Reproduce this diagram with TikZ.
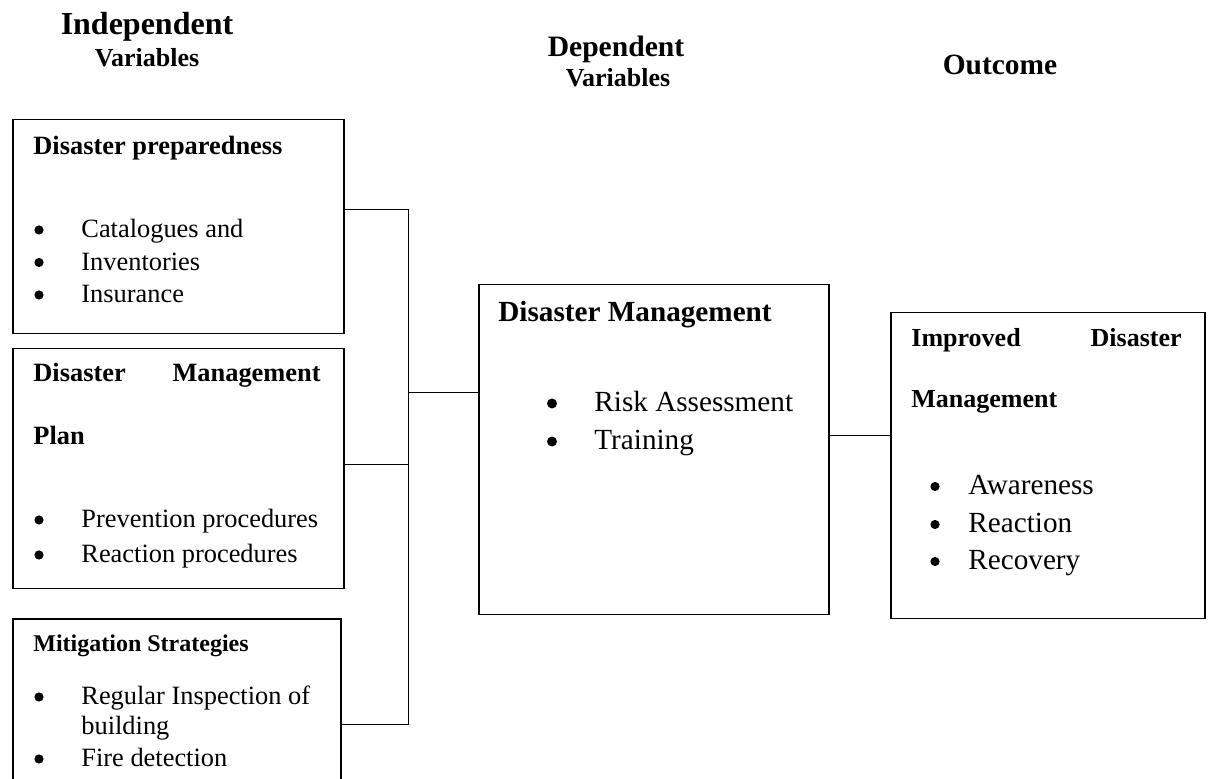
\documentclass[tikz,border=0pt]{standalone}
\usepackage{fontspec}
\setmainfont{Liberation Serif}

\tikzset{
  box/.style={draw, line width=0.75pt, anchor=north west, inner sep=0pt},
  txt/.style={anchor=base west, inner sep=0pt},
  dot/.style={circle, fill, inner sep=0pt, minimum size=4.6pt},
  hd/.style={anchor=base, inner sep=0pt, font=\bfseries\fontsize{13}{15}\selectfont},
  link/.style={line width=0.5pt},
  lfont/.style={font=\fontsize{13.2}{15}\selectfont},
  lbold/.style={font=\bfseries\fontsize{13.2}{15}\selectfont},
  rfont/.style={font=\fontsize{14.6}{17}\selectfont},
}

\begin{document}
\begin{tikzpicture}[x=0.5pt,y=-0.5pt]
\path[use as bounding box, clip] (0,0) rectangle (1210,779);

      % headings
      \node[hd, font=\bfseries\fontsize{16}{19}\selectfont] (indep) at (147,35) {Independent};
      \node[hd] (indepvar) at (147,67) {Variables};
      \node[hd, font=\bfseries\fontsize{14.8}{17}\selectfont] (dep) at (616,57) {Dependent};
      \node[hd] (depvar) at (618,87) {Variables};
      \node[hd, font=\bfseries\fontsize{14.7}{17}\selectfont] (outc) at (1000,75) {Outcome};

      % boxes
      \node[box, minimum width=165.5pt, minimum height=107pt] (prep) at (12,119) {};
      \node[box, minimum width=165.5pt, minimum height=120pt] (plan) at (12,348) {};
      \node[box, line width=1pt, minimum width=164pt, minimum height=91pt] (mitig) at (12,618) {};
      \node[box, minimum width=175pt, minimum height=165pt] (dm) at (478,284) {};
      \node[box, minimum width=157pt, minimum height=153pt] (idm) at (890,312) {};

      % disaster preparedness
      \node[txt, lbold] (preptitle) at (33,155) {Disaster preparedness};
      \foreach \lbl [count=\i] in {Catalogues and, Inventories, Insurance} {
        \node[dot] (prepb\i) at (39,197.5+32.5*\i) {};
        \node[txt, lfont] (prepi\i) at (81,205.5+32.5*\i) {\lbl};
      }

      % plan
      \node[txt, lbold] (plantitle) at (33,382) {Disaster};
      \node[txt, lbold, anchor=base east] (plantitleb) at (321,382) {Management};
      \node[txt, lbold] (plantitlec) at (33,445) {Plan};
      \foreach \lbl/\y [count=\i] in {Prevention procedures/528, Reaction procedures/563} {
        \node[dot] (planb\i) at (39,\y-8) {};
        \node[txt, lfont] (plani\i) at (81,\y) {\lbl};
      }

      % mitigation
      \node[txt, font=\bfseries\fontsize{12}{14}\selectfont] (mitigtitle) at (33,652) {Mitigation Strategies};
      \node[dot] (mitigb1) at (39,697) {};
      \node[txt, lfont] (mitigi1) at (81,705) {Regular Inspection of};
      \node[txt, lfont] (mitigi1b) at (81,735) {building};
      \node[dot] (mitigb2) at (39,759) {};
      \node[txt, lfont] (mitigi2) at (81,767) {Fire detection};

      % disaster management
      \node[txt, font=\bfseries\fontsize{14.6}{17}\selectfont] (dmtitle) at (498,322) {Disaster Management};
      \foreach \lbl/\y [count=\i] in {Risk Assessment/412, Training/450} {
        \node[dot, minimum size=5pt] (dmb\i) at (552,\y-8.5) {};
        \node[txt, rfont] (dmi\i) at (594,\y) {\lbl};
      }

      % improved disaster management
      \node[txt, font=\bfseries\fontsize{13}{15}\selectfont] (idmtitle) at (911,347) {Improved};
      \node[txt, font=\bfseries\fontsize{13}{15}\selectfont, anchor=base east] (idmtitleb) at (1182,347) {Disaster};
      \node[txt, font=\bfseries\fontsize{13}{15}\selectfont] (idmtitlec) at (911,408) {Management};
      \foreach \lbl/\y [count=\i] in {Awareness/495, Reaction/533, Recovery/570} {
        \node[dot] (idmb\i) at (935,\y-8.5) {};
        \node[txt, rfont] (idmi\i) at (968,\y) {\lbl};
      }

      % connectors
      \coordinate (bustop) at (408,210);
      \coordinate (busdm) at (408,393);
      \coordinate (busmid) at (408,465);
      \coordinate (busbot) at (408,725);
      \coordinate (outlink) at (860,436);
      \draw[link] (prep.east |- bustop) -- (bustop) -- (busbot) -- (mitig.east |- busbot);
      \draw[link] (plan.east |- busmid) -- (busmid);
      \draw[link] (busdm) -- (dm.west |- busdm);
      \draw[link] (dm.east |- outlink) -- (idm.west |- outlink);

\end{tikzpicture}
\end{document}
